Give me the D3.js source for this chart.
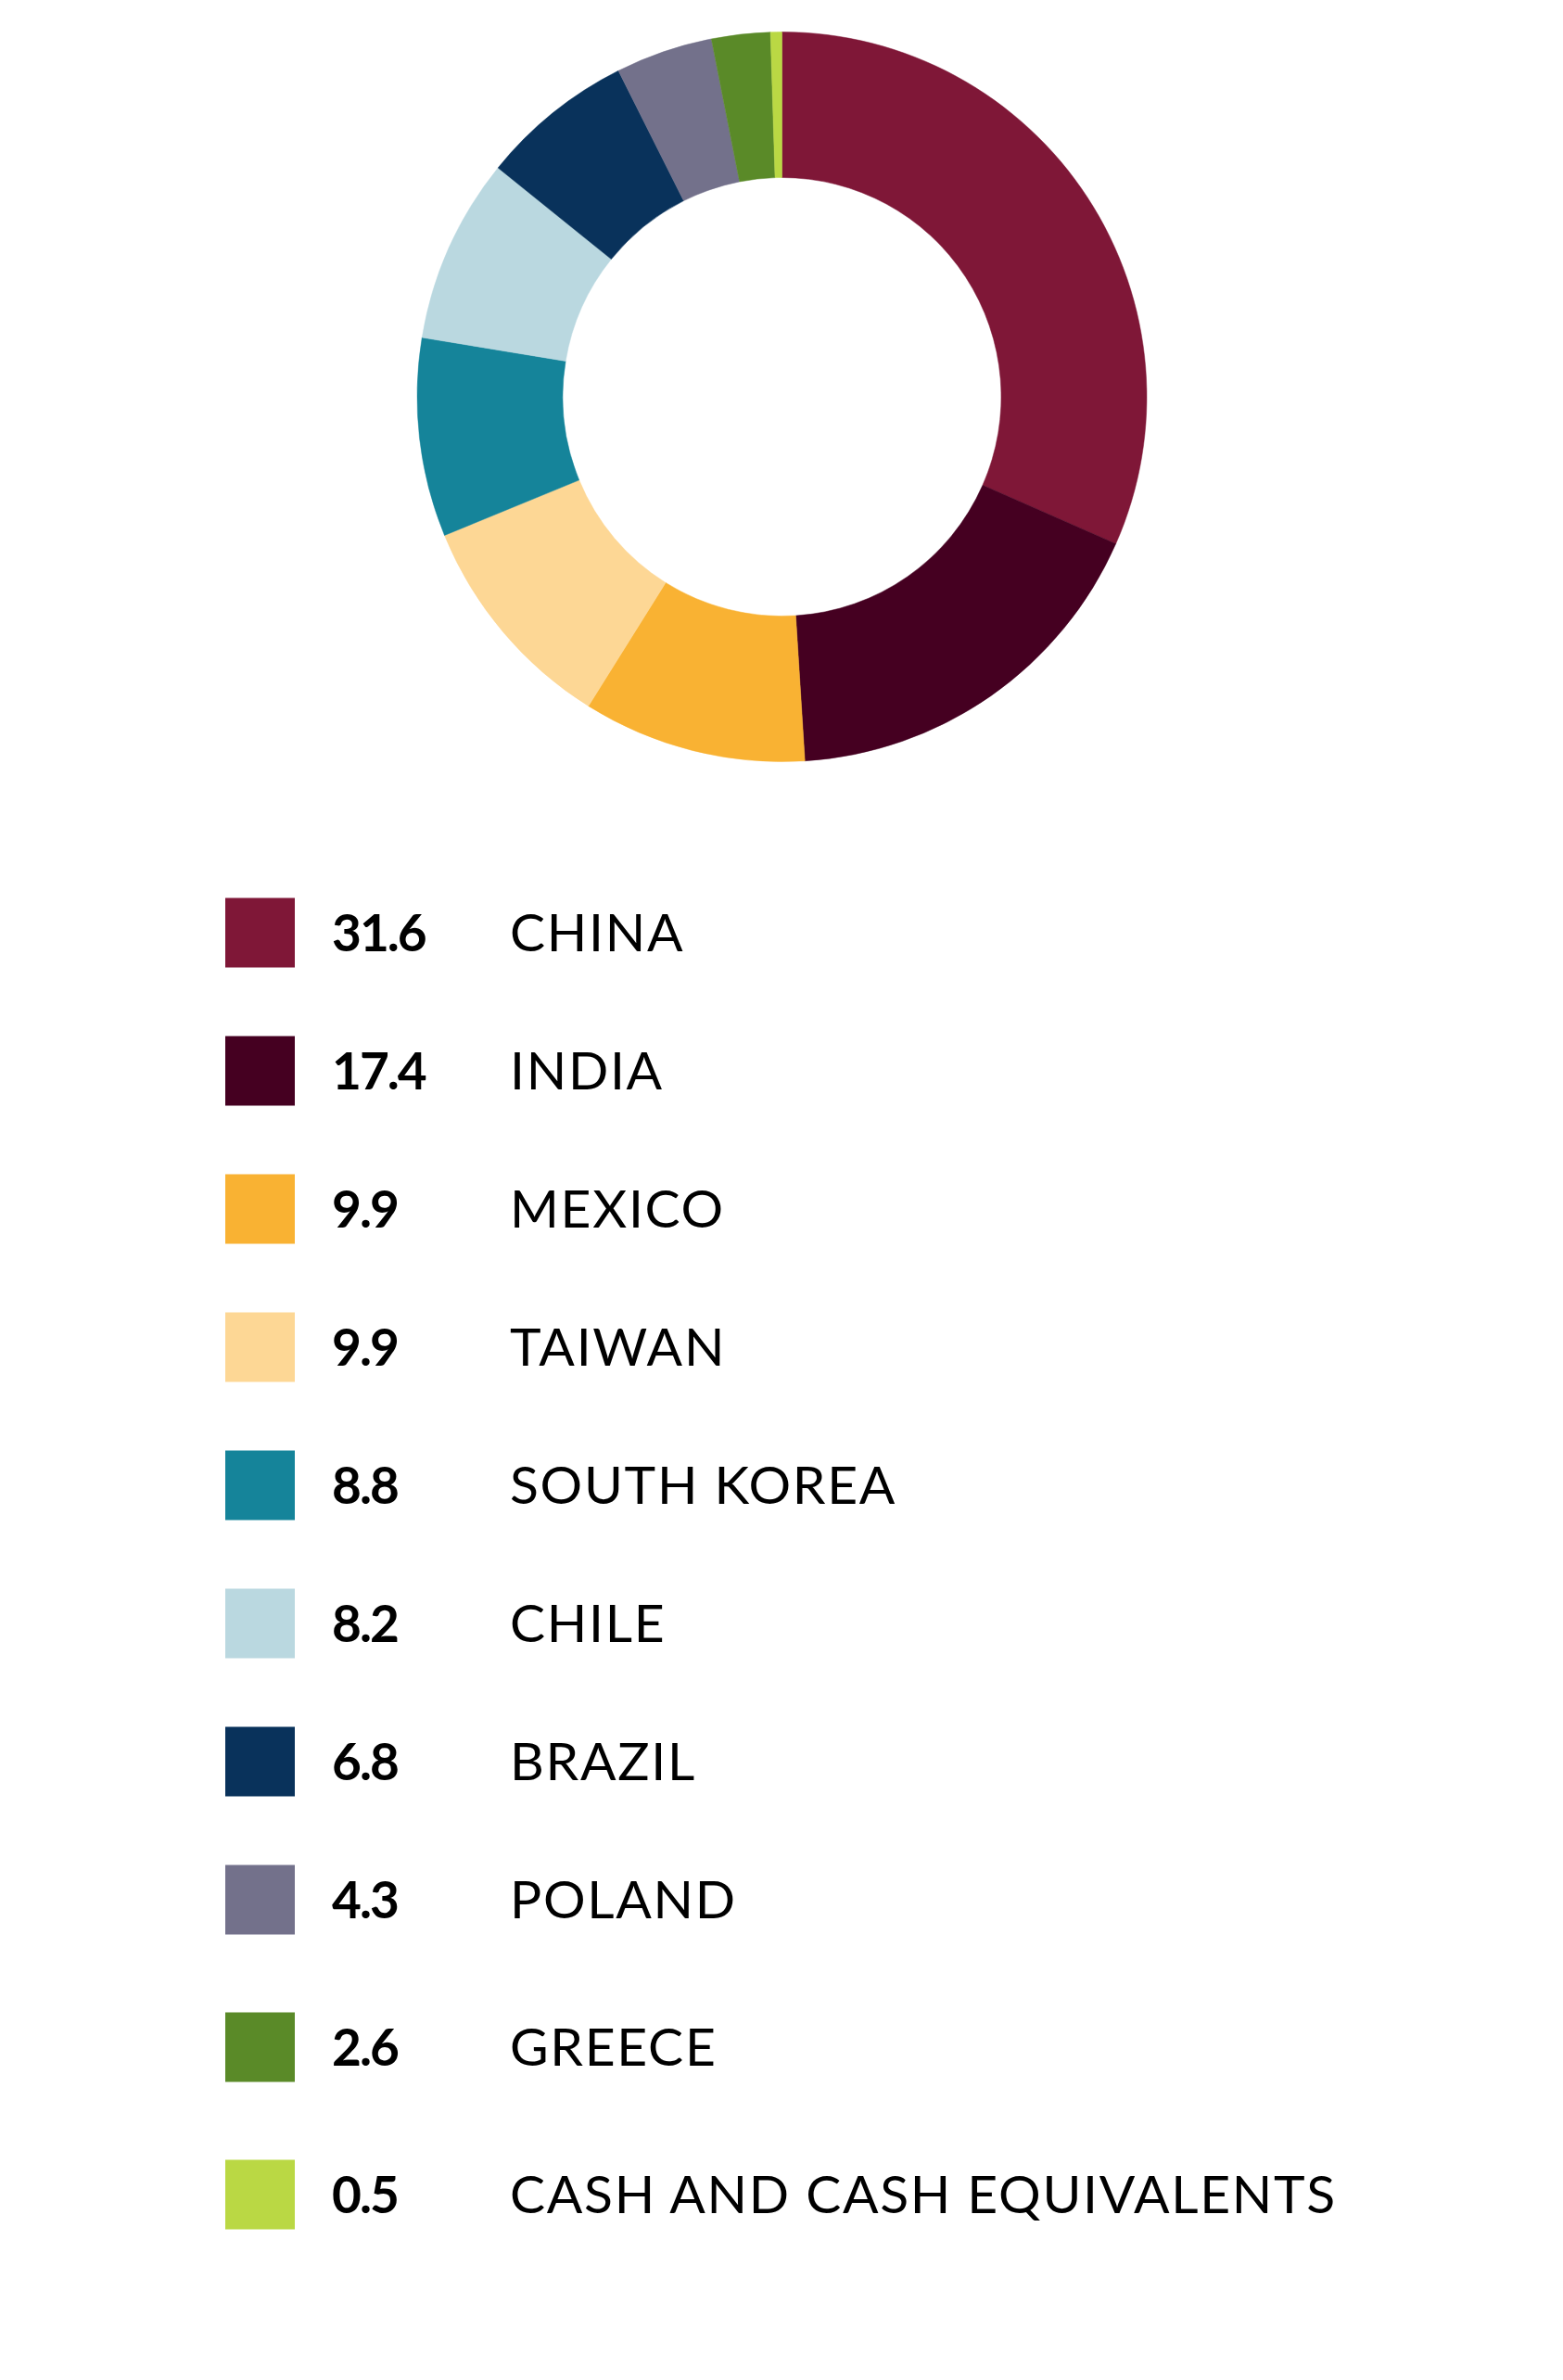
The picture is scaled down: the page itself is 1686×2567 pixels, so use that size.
<!DOCTYPE html>
<html>
<head>
<meta charset="utf-8">
<script src="https://cdn.jsdelivr.net/npm/d3@7"></script>
<style>
  body { margin: 0; background: #fff; }
</style>
</head>
<body>
<div class="canvas"></div>
<script>
// data
const countries = ['CHINA','INDIA','MEXICO','TAIWAN','SOUTH KOREA','CHILE','BRAZIL','POLAND','GREECE','CASH AND CASH EQUIVALENTS'];
const weights = [31.6, 17.4, 9.9, 9.9, 8.8, 8.2, 6.8, 4.3, 2.6, 0.5];
const colours = ['#7f1737','#450021','#f9b233','#fdd795','#15849a','#bad8e0','#09325b','#73718b','#5a8a28','#bad844'];

const data = countries.map((c, i) => ({country: c, value: weights[i], colour: colours[i]}));

// dimensions
const width = 1686;
const height = 2567;

const svg = d3.select('.canvas')
.append('svg')
.attr('width', width)
.attr('height', height);

svg.append('rect')
.attr('width', width)
.attr('height', height)
.attr('fill', '#fff');

// donut
const donut = svg.append('g')
.attr('transform', `translate(843.5,428)`);

const pie = d3.pie()
.sort(null)
.value(d => d.value);

const arc = d3.arc()
.innerRadius(236.5)
.outerRadius(393.5);

donut.selectAll('path')
.data(pie(data))
.enter()
.append('path')
.attr('d', arc)
.attr('fill', d => d.data.colour)
.attr('stroke', d => d.data.colour)
.attr('stroke-width', 0.5);

// legend rows - the last two sit a little further apart
const rowY = i => 1006 + i * 149 + (i >= 8 ? (i - 7) * 10 : 0);

const legend = svg.append('g')
.attr('class', 'legend');

const rows = legend.selectAll('g')
.data(data)
.enter()
.append('g')
.attr('transform', (d, i) => `translate(0,${rowY(i)})`);

rows.append('rect')
.attr('x', 243)
.attr('y', -37.5)
.attr('width', 75)
.attr('height', 75)
.attr('fill', d => d.colour);

rows.append('text')
.attr('x', 358)
.attr('y', 20)
.attr('font-family', 'Lato, sans-serif')
.attr('font-weight', 700)
.attr('font-size', 55)
.attr('letter-spacing', -2)
.attr('fill', '#000')
.text(d => d3.format('.1f')(d.value));

rows.append('text')
.attr('x', 550)
.attr('y', 20)
.attr('font-family', 'Lato, sans-serif')
.attr('font-weight', 400)
.attr('font-size', 57)
.attr('letter-spacing', 1.7)
.attr('fill', '#000')
.text(d => d.country);
</script>
</body>
</html>
